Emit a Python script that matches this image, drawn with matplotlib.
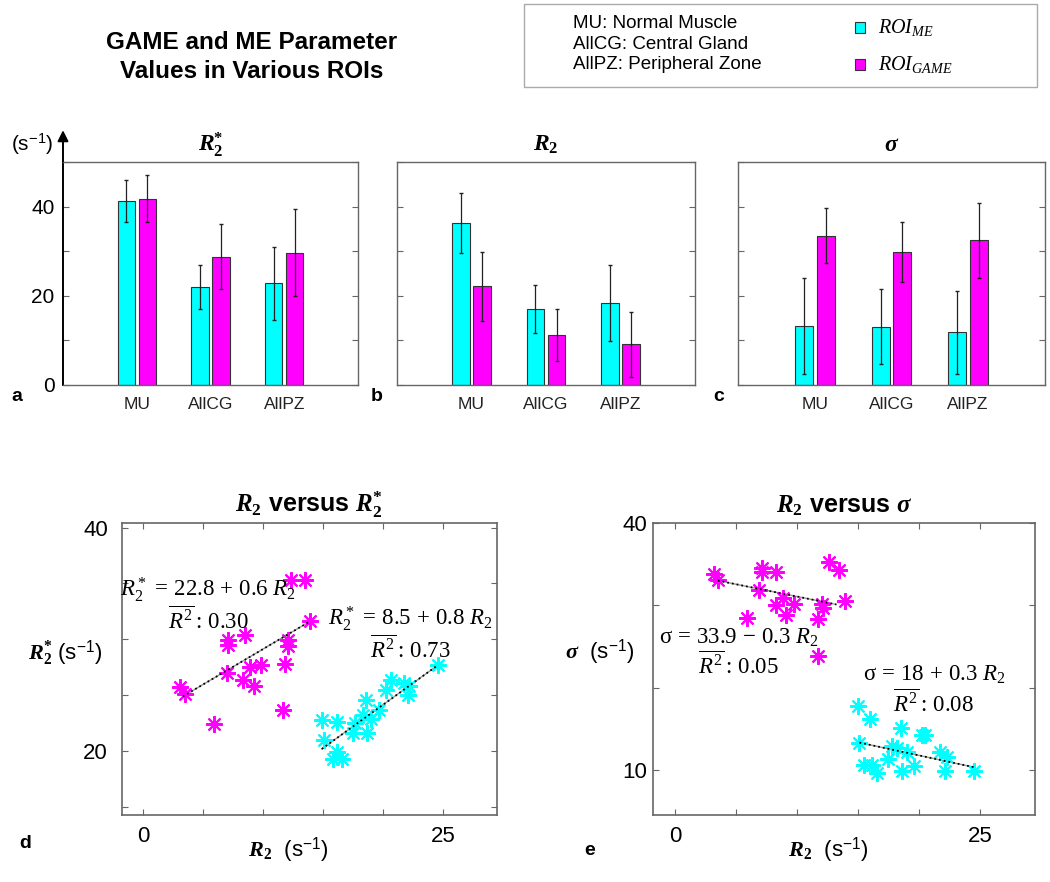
import numpy as np
import matplotlib
matplotlib.use('Agg')
import matplotlib.pyplot as plt
from matplotlib.patches import Rectangle

plt.rcParams['font.family'] = ['Liberation Sans', 'DejaVu Sans']
plt.rcParams['mathtext.fontset'] = 'custom'
plt.rcParams['mathtext.rm'] = 'Liberation Serif'
plt.rcParams['mathtext.it'] = 'Liberation Serif:italic'
plt.rcParams['mathtext.bf'] = 'Liberation Serif:bold'
plt.rcParams['mathtext.bfit'] = 'Liberation Serif:bold:italic'
plt.rcParams['mathtext.sf'] = 'Liberation Sans'

# bar data (mean, sd) per ROI
categories = ['MU', 'AllCG', 'AllPZ']
r2s_me = [41.3, 22.0, 22.8]
r2s_me_err = [4.7, 5.0, 8.2]
r2s_game = [41.8, 28.8, 29.7]
r2s_game_err = [5.2, 7.2, 9.8]
r2_me = [36.3, 17.1, 18.4]
r2_me_err = [6.7, 5.4, 8.5]
r2_game = [22.1, 11.2, 9.1]
r2_game_err = [7.7, 5.8, 7.3]
sig_me = [13.3, 13.1, 11.8]
sig_me_err = [10.8, 8.5, 9.3]
sig_game = [33.5, 29.8, 32.5]
sig_game_err = [6.2, 6.7, 8.4]

# scatter d: R2 vs R2*
d_game_x = [12.3, 13.5, 13.9, 7.1, 7.1, 8.5, 12.1, 12.1, 11.8, 8.9, 9.8, 7.0, 8.3, 9.2, 3.1, 3.5, 11.7, 5.9]
d_game_y = [35.3, 35.3, 31.6, 29.9, 29.5, 30.4, 29.9, 29.4, 27.8, 27.5, 27.7, 27.0, 26.4, 25.8, 25.7, 25.1, 23.7, 22.4]
d_me_x = [24.6, 20.7, 21.8, 22.2, 20.3, 22.1, 18.6, 19.7, 18.3, 19.0, 14.9, 16.2, 17.7, 17.5, 18.7, 15.1, 16.2, 15.8, 16.6]
d_me_y = [27.7, 26.4, 26.1, 25.8, 25.5, 25.0, 24.6, 23.7, 23.2, 22.9, 22.8, 22.6, 22.5, 21.6, 21.6, 21.0, 19.9, 19.3, 19.3]
d_game_fit_x = [3.3, 13.9]
d_game_fit_y = [24.9, 31.6]
d_me_fit_x = [14.9, 24.6]
d_me_fit_y = [20.2, 27.7]

# scatter e: R2 vs sigma
e_game_x = [3.2, 3.5, 7.1, 7.1, 8.3, 12.6, 13.4, 6.9, 8.8, 8.3, 9.7, 12.0, 12.1, 13.9, 5.9, 9.1, 11.7, 11.7]
e_game_y = [33.8, 33.1, 34.5, 34.0, 34.0, 35.2, 34.3, 31.8, 30.9, 30.0, 30.1, 30.2, 29.7, 30.5, 28.5, 28.8, 28.3, 23.8]
e_me_x = [15.0, 16.0, 18.5, 20.2, 20.5, 15.1, 17.8, 18.2, 19.0, 21.7, 22.3, 17.4, 15.5, 16.1, 19.6, 18.6, 22.1, 16.5, 24.5]
e_me_y = [17.8, 16.2, 15.1, 14.2, 14.2, 13.3, 12.9, 12.7, 12.1, 12.1, 11.5, 11.3, 10.6, 10.6, 10.5, 9.9, 9.9, 9.6, 9.8]
e_game_fit_x = [3.5, 13.2]
e_game_fit_y = [33.0, 30.1]
e_me_fit_x = [15.1, 24.5]
e_me_fit_y = [13.3, 10.3]

cyan = '#00FFFF'
magenta = '#FF00FF'
spine_col = '#666666'

fig = plt.figure(figsize=(10.5, 8.82), dpi=100)

# header
fig.text(0.240, 0.935, 'GAME and ME Parameter\nValues in Various ROIs', ha='center', va='center',
         fontsize=17.5, fontweight='bold', linespacing=1.32)
fig.patches.append(Rectangle((0.499, 0.901), 0.489, 0.095, transform=fig.transFigure,
                             fill=False, edgecolor='#aaaaaa', lw=1.0))
fig.text(0.546, 0.950, 'MU: Normal Muscle\nAllCG: Central Gland\nAllPZ: Peripheral Zone',
         ha='left', va='center', fontsize=13.5, linespacing=1.25)
for yy, col, lab in [(0.969, cyan, r'$ROI_{ME}$'), (0.927, magenta, r'$ROI_{GAME}$')]:
    fig.patches.append(Rectangle((0.814, yy - 0.0065), 0.0095, 0.013, transform=fig.transFigure,
                                 facecolor=col, edgecolor='#333333', lw=0.8))
    fig.text(0.836, yy, lab, ha='left', va='center', fontsize=14.5)

# bar panels
bar_specs = [
    (0.060, 0.281, r'$\mathbfit{R}_\mathbf{2}^\mathbf{*}$', r2s_me, r2s_me_err, r2s_game, r2s_game_err, 'a'),
    (0.378, 0.284, r'$\mathbfit{R}_\mathbf{2}$', r2_me, r2_me_err, r2_game, r2_game_err, 'b'),
    (0.703, 0.292, r'$\mathbfit{\sigma}$', sig_me, sig_me_err, sig_game, sig_game_err, 'c'),
]
pos = np.arange(1, len(categories) + 1)
for i, (left, width, title, me, me_e, game, game_e, letter) in enumerate(bar_specs):
    ax = fig.add_axes([left, 0.5635, width, 0.2528])
    ax.bar(pos - 0.142, me, width=0.235, color=cyan, edgecolor='#333333', lw=0.8)
    ax.bar(pos + 0.142, game, width=0.235, color=magenta, edgecolor='#333333', lw=0.8)
    ax.errorbar(pos - 0.142, me, yerr=me_e, fmt='none', ecolor='#222222', elinewidth=0.9, capsize=1.5)
    ax.errorbar(pos + 0.142, game, yerr=game_e, fmt='none', ecolor='#222222', elinewidth=0.9, capsize=1.5)
    ax.set_xlim(0, 4)
    ax.set_ylim(0, 50)
    ax.set_xticks(pos)
    ax.set_xticklabels(categories, fontsize=12.5, color='#222222')
    ax.tick_params(axis='x', length=0, pad=9)
    ax.set_yticks([0, 10, 20, 30, 40, 50])
    if i == 0:
        ax.set_yticklabels(['0', '', '20', '', '40', ''], fontsize=15)
    else:
        ax.set_yticklabels([])
    ax.tick_params(axis='y', direction='in', length=4, right=True, pad=6, color=spine_col)
    for s in ax.spines.values():
        s.set_color(spine_col)
        s.set_linewidth(1.0)
    ax.set_title(title, fontsize=17, pad=8)
    fig.text(left - 0.044 if i == 0 else left - 0.019, 0.550, letter, fontsize=14, fontweight='bold',
             ha='center', va='center')
    if i == 0:
        ax.spines['left'].set_color('black')
        ax.spines['left'].set_linewidth(1.4)
        ax.annotate('', xy=(0, 1.155), xytext=(0, 0.99), xycoords='axes fraction',
                    arrowprops=dict(arrowstyle='-|>', color='black', lw=1.4, mutation_scale=16),
                    annotation_clip=False)
        fig.text(0.031, 0.836, '(s$^{\\mathsf{-1}}$)', fontsize=15, ha='center', va='center')


def scatter_panel(rect, ylim, yticks, ylabels, gx, gy, mx, my, gfx, gfy, mfx, mfy,
                  title, ylab, ylab_xy, xlab_x, letter, letter_xy, ypad):
    ax = fig.add_axes(rect)
    ax.plot(gfx, gfy, color='#999999', lw=1.0, zorder=1)
    ax.plot(gfx, gfy, color='black', lw=1.3, ls=':', zorder=3)
    ax.plot(mfx, mfy, color='#999999', lw=1.0, zorder=1)
    ax.plot(mfx, mfy, color='black', lw=1.3, ls=':', zorder=3)
    ax.plot(gx, gy, ls='none', marker=(8, 2, 0), ms=12, mew=1.5, color=magenta, zorder=2)
    ax.plot(mx, my, ls='none', marker=(8, 2, 0), ms=12, mew=1.5, color=cyan, zorder=2)
    ax.set_xlim(-1.8, 29.5)
    ax.set_ylim(*ylim)
    ax.set_xticks([0, 5, 10, 15, 20, 25])
    ax.set_xticklabels(['0', '', '', '', '', '25'], fontsize=16)
    ax.set_yticks(yticks)
    ax.set_yticklabels(ylabels, fontsize=16)
    ax.tick_params(direction='in', length=4, top=True, right=True, color=spine_col)
    ax.tick_params(axis='x', pad=8)
    ax.tick_params(axis='y', pad=ypad)
    for s in ax.spines.values():
        s.set_color(spine_col)
        s.set_linewidth(1.2)
    ax.set_title(title, fontsize=18, fontweight='bold', pad=8)
    ax.set_ylabel(ylab, fontsize=16, rotation=0, ha='center', va='center')
    ax.yaxis.set_label_coords(*ylab_xy)
    ax.set_xlabel(r'$\mathbfit{R}_\mathbf{2}$  (s$^{\mathsf{-1}}$)', fontsize=16, va='center')
    ax.xaxis.set_label_coords(xlab_x, -0.12)
    fig.text(letter_xy[0], letter_xy[1], letter, fontsize=14, fontweight='bold', ha='center', va='center')
    return ax


def eq_text(ax, x, y, line1, line2):
    ax.text(x, y, line1 + '\n' + line2, ha='center', va='center', fontsize=16.5, linespacing=1.1)


ax_d = scatter_panel([0.116, 0.076, 0.357, 0.331], (14.3, 40.4), [15, 20, 25, 30, 35, 40],
                     ['', '20', '', '', '', '40'], d_game_x, d_game_y, d_me_x, d_me_y,
                     d_game_fit_x, d_game_fit_y, d_me_fit_x, d_me_fit_y,
                     r'$\mathbfit{R}_\mathbf{2}$ versus $\mathbfit{R}_\mathbf{2}^\mathbf{*}$',
                     r'$\mathbfit{R}_\mathbf{2}^\mathbf{*}$ (s$^{\mathsf{-1}}$)', (-0.152, 0.555), 0.443,
                     'd', (0.024, 0.044), 10)
eq_text(ax_d, 5.4, 33.1, r'$R_2^*\,=\,22.8\,+\,0.6\ R_2$', r'$\overline{R^2}\mathrm{:}\,0.30$')
eq_text(ax_d, 22.3, 30.5, r'$R_2^*\,=\,8.5\,+\,0.8\ R_2$', r'$\overline{R^2}\mathrm{:}\,0.73$')

ax_e = scatter_panel([0.622, 0.076, 0.364, 0.331], (4.5, 40), [10, 20, 30, 40],
                     ['10', '', '', '40'], e_game_x, e_game_y, e_me_x, e_me_y,
                     e_game_fit_x, e_game_fit_y, e_me_fit_x, e_me_fit_y,
                     r'$\mathbfit{R}_\mathbf{2}$ versus $\mathbfit{\sigma}$',
                     r'$\mathbfit{\sigma}$  (s$^{\mathsf{-1}}$)', (-0.139, 0.558), 0.458,
                     'e', (0.562, 0.036), 4)
eq_text(ax_e, 5.2, 24.3, r'$\mathrm{\sigma}\,=\,33.9\,-\,0.3\ R_2$', r'$\overline{R^2}\mathrm{:}\,0.05$')
eq_text(ax_e, 21.2, 19.7, r'$\mathrm{\sigma}\,=\,18\,+\,0.3\ R_2$', r'$\overline{R^2}\mathrm{:}\,0.08$')

fig.savefig('out.png', dpi=100)
